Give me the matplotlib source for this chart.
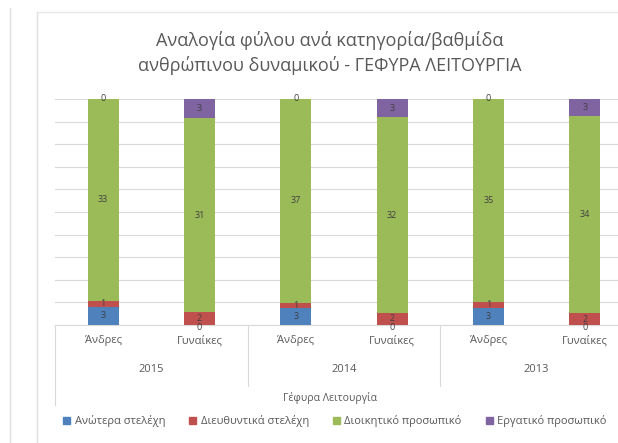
import numpy as np
import matplotlib.pyplot as plt
from matplotlib.lines import Line2D

plt.rcParams['font.family'] = ['Open Sans', 'DejaVu Sans']

years = ['2015', '2014', '2013']
genders = ['Άνδρες', 'Γυναίκες', 'Άνδρες', 'Γυναίκες', 'Άνδρες', 'Γυναίκες']
series_names = ['Ανώτερα στελέχη', 'Διευθυντικά στελέχη',
                'Διοικητικό προσωπικό', 'Εργατικό προσωπικό']
senior = [3, 0, 3, 0, 3, 0]
managers = [1, 2, 1, 2, 1, 2]
admin = [33, 31, 37, 32, 35, 34]
workers = [0, 3, 0, 3, 0, 3]
colors = ['#4F81BD', '#C0504D', '#9BBB59', '#8064A2']
txt = '#595959'

W, H = 618, 443
fig = plt.figure(figsize=(W / 100, H / 100), dpi=100)

# plot area in pixels: x 55..633 (cut off on the right), y 99..325
ax = fig.add_axes([55 / W, 1 - 325 / H, 578 / W, 226 / H])

data = np.array([senior, managers, admin, workers], dtype=float)
pct = data / data.sum(axis=0) * 100
x = np.arange(len(genders))
bottom = np.zeros(len(genders))
for i in range(4):
    ax.bar(x, pct[i], 0.32, bottom=bottom, color=colors[i], zorder=3)
    for j in range(len(genders)):
        yl = bottom[j] + pct[i][j] / 2
        if data[i][j] == 0 and bottom[j] == 0:
            yl = -1.2  # empty segment at the base sits just under the bar
        ax.text(x[j], yl, str(int(data[i][j])),
                ha='center', va='center', fontsize=6.5, color='#404040', zorder=4,
                clip_on=False)
    bottom += pct[i]

ax.set_xlim(-0.5, 5.5)
ax.set_ylim(0, 100)
ax.set_yticks(np.arange(0, 101, 10))
ax.grid(axis='y', color='#d9d9d9', linewidth=0.8, zorder=0)
ax.tick_params(left=False, labelleft=False, bottom=False, labelbottom=False)
for s in ['top', 'right', 'left']:
    ax.spines[s].set_visible(False)
ax.spines['bottom'].set_color('#d9d9d9')

# multi-level category axis
for j, g in enumerate(genders):
    fig.text((55 + (j + 0.5) * 578 / 6) / W, 1 - 341 / H, g, ha='center', va='center',
             fontsize=8, color=txt)
for k, yr in enumerate(years):
    fig.text((55 + (2 * k + 1) * 578 / 6) / W, 1 - 369 / H, yr, ha='center', va='center',
             fontsize=8, color=txt)
for k, bot in zip([0, 2, 4], [405, 386, 386]):
    xp = 55 + k * 578 / 6
    fig.add_artist(Line2D([xp / W, xp / W], [1 - 325 / H, 1 - bot / H],
                          color='#d9d9d9', linewidth=0.8))
fig.text(330 / W, 1 - 398 / H, 'Γέφυρα Λειτουργία', ha='center', va='center',
         fontsize=7.5, color=txt)

fig.text(330 / W, 1 - 53 / H,
         'Αναλογία φύλου ανά κατηγορία/βαθμίδα\nανθρώπινου δυναμικού - ΓΕΦΥΡΑ ΛΕΙΤΟΥΡΓΙΑ',
         ha='center', va='center', fontsize=13, color=txt, linespacing=1.35)

handles = [plt.Rectangle((0, 0), 1, 1, color=c) for c in colors]
fig.legend(handles, series_names, loc='center', bbox_to_anchor=(335 / W, 1 - 421 / H),
           ncol=4, frameon=False, fontsize=8, handlelength=0.6, handleheight=0.6,
           handletextpad=0.4, columnspacing=2.2, labelcolor=txt)

# chart frame lines
fig.add_artist(Line2D([10 / W, 10 / W], [0, 1 - 8 / H], color='#e0e0e0', linewidth=1))
fig.add_artist(Line2D([37 / W, 37 / W], [0, 1 - 12 / H], color='#e0e0e0', linewidth=1))
fig.add_artist(Line2D([37 / W, 1], [1 - 12 / H, 1 - 12 / H], color='#e8e8e8', linewidth=1))

fig.savefig('out.png', dpi=100)
